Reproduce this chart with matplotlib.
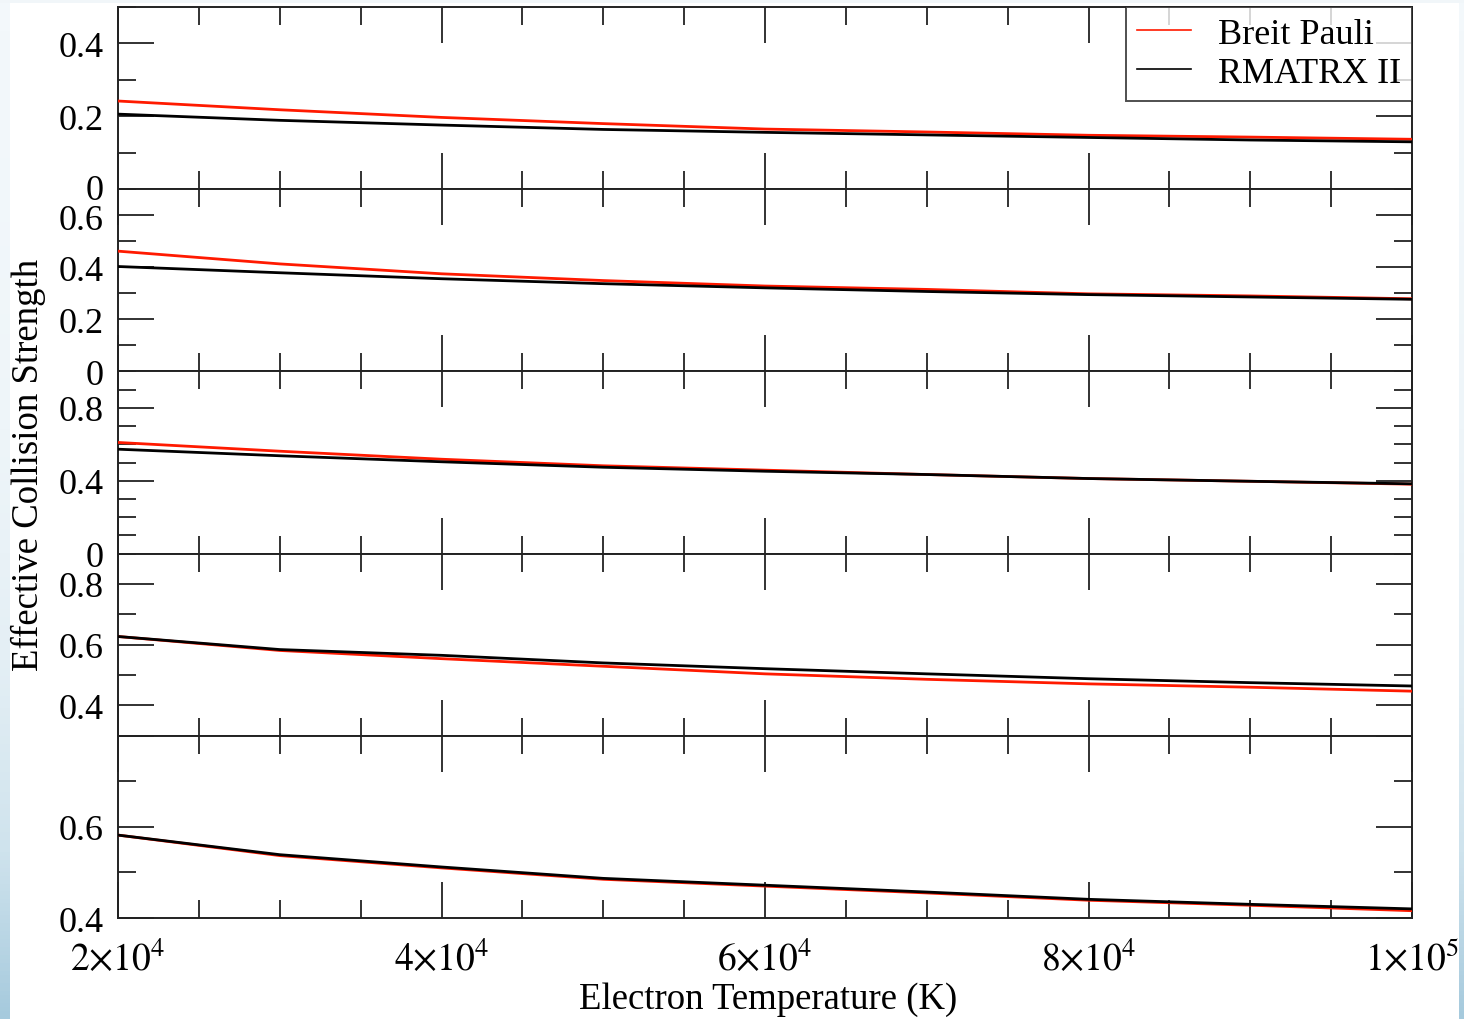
import numpy as np
import matplotlib
matplotlib.use("Agg")
import matplotlib.pyplot as plt
import matplotlib.transforms as mtransforms
from matplotlib.ticker import MultipleLocator, FixedLocator, FuncFormatter
from matplotlib.colors import LinearSegmentedColormap

plt.rcParams['font.family'] = ['Liberation Serif', 'DejaVu Serif']
plt.rcParams['mathtext.fontset'] = 'stix'

# Electron temperature grid (K)
temperature = [2e4, 3e4, 4e4, 5e4, 6e4, 7e4, 8e4, 9e4, 1e5]

# Effective collision strengths, one pair per transition (top to bottom)
breit_pauli_1 = [0.242, 0.218, 0.197, 0.180, 0.165, 0.157, 0.148, 0.143, 0.137]
rmatrx_1      = [0.206, 0.189, 0.176, 0.164, 0.156, 0.149, 0.142, 0.135, 0.130]

breit_pauli_2 = [0.462, 0.413, 0.375, 0.349, 0.328, 0.315, 0.298, 0.290, 0.279]
rmatrx_2      = [0.403, 0.379, 0.356, 0.337, 0.321, 0.307, 0.295, 0.286, 0.277]

breit_pauli_3 = [0.610, 0.562, 0.518, 0.482, 0.458, 0.434, 0.412, 0.397, 0.381]
rmatrx_3      = [0.573, 0.537, 0.504, 0.474, 0.452, 0.434, 0.412, 0.397, 0.383]

breit_pauli_4 = [0.627, 0.581, 0.554, 0.529, 0.504, 0.486, 0.471, 0.460, 0.447]
rmatrx_4      = [0.627, 0.584, 0.565, 0.540, 0.521, 0.504, 0.488, 0.475, 0.464]

breit_pauli_5 = [0.582, 0.537, 0.510, 0.485, 0.470, 0.455, 0.439, 0.428, 0.416]
rmatrx_5      = [0.582, 0.539, 0.512, 0.487, 0.472, 0.457, 0.441, 0.430, 0.420]

series_labels = ["Breit Pauli", "RMATRX II"]
x_tick_values = [2e4, 4e4, 6e4, 8e4, 1e5]
x_tick_labels = [r"$2{\times}10^{4}$", r"$4{\times}10^{4}$", r"$6{\times}10^{4}$",
                 r"$8{\times}10^{4}$", r"$1{\times}10^{5}$"]

# Per-panel y settings: limits, major step, labelled ticks
panel_ylims = [(0, 0.5), (0, 0.7), (0, 1.0), (0.3, 0.9), (0.4, 0.8)]
panel_major = [0.2, 0.2, 0.4, 0.2, 0.2]
panel_labels = [[0, 0.2, 0.4], [0, 0.2, 0.4, 0.6], [0, 0.4, 0.8],
                [0.4, 0.6, 0.8], [0.4, 0.6]]

bp_series = [breit_pauli_1, breit_pauli_2, breit_pauli_3, breit_pauli_4, breit_pauli_5]
rm_series = [rmatrx_1, rmatrx_2, rmatrx_3, rmatrx_4, rmatrx_5]

W, H = 1464, 1020
fig = plt.figure(figsize=(W / 100, H / 100), dpi=100, facecolor='white')

# Soft blue page border
edge_cmap = LinearSegmentedColormap.from_list(
    "edge", ["#f3f8fb", "#eef5f9", "#e4eff5", "#cfe3ed", "#a6cadd"])
grad = np.linspace(0, 1, 256).reshape(-1, 1) ** 1.6
for (x0, w) in [(0, 10), (1459, 5)]:
    bax = fig.add_axes([x0 / W, 0, w / W, 1])
    bax.imshow(grad, aspect='auto', cmap=edge_cmap, extent=[0, 1, 0, 1], origin='upper')
    bax.set_axis_off()
tax = fig.add_axes([0, 1 - 4 / H, 1, 4 / H])
tax.set_facecolor('#f1f6f9')
tax.set_xticks([]); tax.set_yticks([])
for s in tax.spines.values():
    s.set_visible(False)

left, right = 118 / W, 1412 / W
top, bottom = 1 - 8 / H, 1 - 919 / H
ph = (top - bottom) / 5

axes = []
for i in range(5):
    y0 = top - (i + 1) * ph
    ax = fig.add_axes([left, y0, right - left, ph])
    axes.append(ax)
    ax.plot(temperature, bp_series[i], color='#ff1a00', lw=2.0, label=series_labels[0], zorder=3)
    ax.plot(temperature, rm_series[i], color='black', lw=2.0, label=series_labels[1], zorder=4)
    ax.set_xlim(2e4, 1e5)
    ax.set_ylim(*panel_ylims[i])

    ax.xaxis.set_major_locator(FixedLocator(x_tick_values))
    ax.xaxis.set_minor_locator(MultipleLocator(5e3))
    ax.yaxis.set_major_locator(MultipleLocator(panel_major[i]))
    ax.yaxis.set_minor_locator(MultipleLocator(0.1))
    shown = panel_labels[i]

    def fmt(v, pos, shown=shown):
        for s in shown:
            if abs(v - s) < 1e-6:
                return "0" if abs(v) < 1e-9 else f"{v:.1f}"
        return ""
    ax.yaxis.set_major_formatter(FuncFormatter(fmt))

    ax.tick_params(which='both', direction='in', top=True, right=True,
                   color='#222222', width=1.3)
    ax.tick_params(which='major', length=26, labelsize=26, pad=10)
    ax.tick_params(which='minor', length=13)
    if i < 4:
        ax.tick_params(axis='x', labelbottom=False)
    else:
        ax.set_xticklabels(x_tick_labels)
        ax.tick_params(axis='x', labelsize=27, pad=16)
    for s in ax.spines.values():
        s.set_linewidth(1.4)
        s.set_color('#222222')

leg = axes[0].legend(loc='upper right', fontsize=26, frameon=True, fancybox=False,
                     borderaxespad=0, handlelength=1.5, handletextpad=0.75,
                     borderpad=0.3, labelspacing=0.15)
leg.get_frame().set_edgecolor('#222222')
leg.get_frame().set_linewidth(1.4)
for line in leg.get_lines():
    line.set_linewidth(1.2)

fig.text(768 / W, 1 - 1000 / H, "Electron Temperature (K)", ha='center', va='center',
         fontsize=26.5)
fig.text(28 / W, 1 - 465 / H, "Effective Collision Strength", ha='center', va='center',
         rotation=90, fontsize=26.5)

# Give the crowded "0" / "0.6" pair at the first panel join a little room
fig.canvas.draw()
def nudge(ax, value, dy_px):
    for tick in ax.yaxis.get_major_ticks():
        if abs(tick.get_loc() - value) < 1e-6:
            lab = tick.label1
            lab.set_transform(lab.get_transform() +
                              mtransforms.ScaledTranslation(0, dy_px / 100, fig.dpi_scale_trans))
nudge(axes[0], 0.0, 2.5)
nudge(axes[1], 0.6, -1.5)

fig.savefig("out.png", dpi=100, facecolor=fig.get_facecolor())
